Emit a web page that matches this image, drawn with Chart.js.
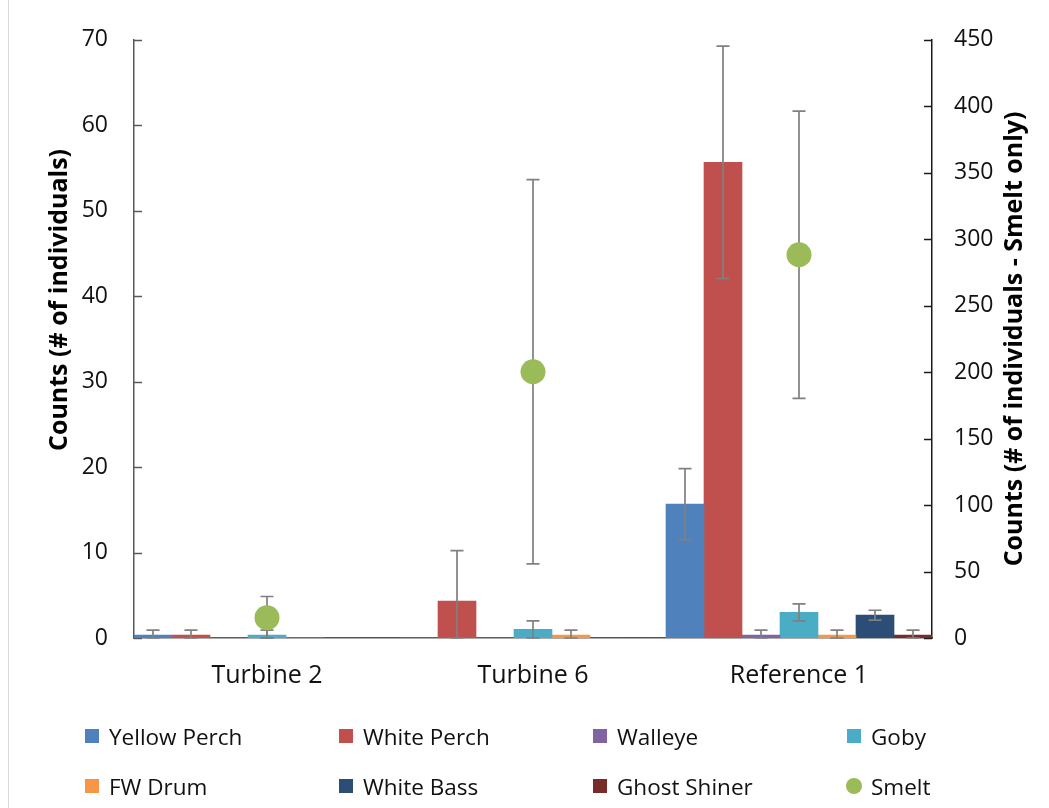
<!DOCTYPE html>
<html>
<head>
<meta charset="utf-8">
<script src="https://cdn.jsdelivr.net/npm/chart.js@4.4.1/dist/chart.umd.min.js"></script>
<style>
  html, body { margin: 0; padding: 0; background: #fff; }
  #wrap { position: relative; width: 1049px; height: 808px; overflow: hidden; }
  #frame { position: absolute; left: 8px; top: 0; width: 1px; height: 808px; background: #d9d9d9; }
  canvas { position: absolute; left: 0; top: 0; }
  #legend {
    position: absolute; left: 85px; top: 716px;
    display: grid; grid-template-columns: repeat(4, 254px); grid-auto-rows: 50px;
    font-family: 'Open Sans', sans-serif; font-size: 22.5px; color: #111;
  }
  .item { display: flex; align-items: center; height: 40px; white-space: nowrap; }
  .sw { width: 14px; height: 14px; margin-right: 10px; flex: none; }
  .sw.dot { width: 16px; height: 16px; border-radius: 50%; margin-left: -1px; margin-right: 9px; }
</style>
</head>
<body>
<div id="wrap">
  <div id="frame"></div>
  <canvas id="c" width="1049" height="808"></canvas>
  <div id="legend"></div>
</div>
<script>
// Sites sampled
const categories = ['Turbine 2', 'Turbine 6', 'Reference 1'];

// Mean counts per site (left axis) with their error values
const yellowPerch    = [0.33, 0, 15.67];
const yellowPerchErr = [0.58, 0, 4.16];
const whitePerch     = [0.33, 4.33, 55.67];
const whitePerchErr  = [0.58, 5.9, 13.6];
const walleye        = [0, 0, 0.33];
const walleyeErr     = [0, 0, 0.58];
const goby           = [0.33, 1, 3];
const gobyErr        = [0.58, 1, 1];
const fwDrum         = [0, 0.33, 0.33];
const fwDrumErr      = [0, 0.58, 0.58];
const whiteBass      = [0, 0, 2.67];
const whiteBassErr   = [0, 0, 0.58];
const ghostShiner    = [0, 0, 0.33];
const ghostShinerErr = [0, 0, 0.58];

// Smelt counts (right axis)
const smelt    = [15.3, 200.3, 288.3];
const smeltErr = [15.9, 144.5, 108];

// Axis tick ranges
const leftTicks  = { min: 0, max: 70, step: 10 };
const rightTicks = { min: 0, max: 450, step: 50 };

const FONT = "'Open Sans', sans-serif";

function barSet(label, data, errors, color) {
  return { type: 'bar', label, data, errors, backgroundColor: color, borderWidth: 0, yAxisID: 'y' };
}

const datasets = [
  barSet('Yellow Perch', yellowPerch, yellowPerchErr, '#4F81BD'),
  barSet('White Perch', whitePerch, whitePerchErr, '#C0504D'),
  barSet('Walleye', walleye, walleyeErr, '#8064A2'),
  barSet('Goby', goby, gobyErr, '#4BACC6'),
  barSet('FW Drum', fwDrum, fwDrumErr, '#F79646'),
  barSet('White Bass', whiteBass, whiteBassErr, '#2C4D75'),
  barSet('Ghost Shiner', ghostShiner, ghostShinerErr, '#772C2A'),
  {
    type: 'line', label: 'Smelt', data: smelt, errors: smeltErr, yAxisID: 'y2',
    showLine: false, pointRadius: 12.5, pointHoverRadius: 12.5,
    pointBackgroundColor: '#9BBB59', pointBorderWidth: 0, borderColor: '#9BBB59',
    backgroundColor: '#9BBB59', order: -1
  }
];

// Error bars: whiskers under the smelt markers, over the bars
function drawErrors(chart, index) {
  const ds = chart.data.datasets[index];
  if (!ds.errors) return;
  const meta = chart.getDatasetMeta(index);
  const scale = chart.scales[meta.yAxisID];
  const ctx = chart.ctx;
  const area = chart.chartArea;
  ctx.save();
  ctx.strokeStyle = '#808080';
  ctx.lineWidth = 1.7;
  meta.data.forEach((el, j) => {
    const e = ds.errors[j];
    if (!e) return;
    const v = ds.data[j];
    const x = el.x;
    const yTop = scale.getPixelForValue(v + e);
    const yBot = Math.min(scale.getPixelForValue(v - e), area.bottom);
    const cap = 6.5;
    ctx.beginPath();
    ctx.moveTo(x, yTop); ctx.lineTo(x, yBot);
    ctx.moveTo(x - cap, yTop); ctx.lineTo(x + cap, yTop);
    ctx.moveTo(x - cap, yBot); ctx.lineTo(x + cap, yBot);
    ctx.stroke();
  });
  ctx.restore();
}

const errorBars = {
  id: 'errorBars',
  beforeDatasetDraw(chart, args) {
    if (chart.data.datasets[args.index].type === 'line') drawErrors(chart, args.index);
  },
  afterDatasetDraw(chart, args) {
    if (chart.data.datasets[args.index].type !== 'line') drawErrors(chart, args.index);
  }
};

// Inward tick marks on both value axes, plus the rotated axis titles
const axisDecor = {
  id: 'axisDecor',
  beforeDatasetsDraw(chart) {
    const ctx = chart.ctx;
    const a = chart.chartArea;
    ctx.save();
    ctx.lineWidth = 1.5;
    ctx.strokeStyle = '#595959';
    chart.scales.y.ticks.forEach(t => {
      const y = Math.round(chart.scales.y.getPixelForValue(t.value)) + 0.5;
      ctx.beginPath(); ctx.moveTo(a.left, y); ctx.lineTo(a.left + 8, y); ctx.stroke();
    });
    ctx.strokeStyle = '#1a1a1a';
    chart.scales.y2.ticks.forEach(t => {
      const y = Math.round(chart.scales.y2.getPixelForValue(t.value)) + 0.5;
      ctx.beginPath(); ctx.moveTo(a.right - 8, y); ctx.lineTo(a.right, y); ctx.stroke();
    });
    ctx.restore();
  },
  afterDraw(chart) {
    const ctx = chart.ctx;
    const a = chart.chartArea;
    ctx.save();
    ctx.fillStyle = '#000';
    ctx.font = "bold 25px " + FONT;
    ctx.textAlign = 'center';
    ctx.textBaseline = 'middle';
    ctx.translate(60, 300);
    ctx.rotate(-Math.PI / 2);
    ctx.fillText('Counts (# of individuals)', 0, 0);
    ctx.restore();
    ctx.save();
    ctx.fillStyle = '#000';
    ctx.font = "bold 25px " + FONT;
    ctx.textAlign = 'center';
    ctx.textBaseline = 'middle';
    ctx.translate(1015, (a.top + a.bottom) / 2);
    ctx.rotate(-Math.PI / 2);
    ctx.fillText('Counts (# of individuals - Smelt only)', 0, 0);
    ctx.restore();
  }
};

const chart = new Chart(document.getElementById('c'), {
  data: { labels: categories, datasets },
  options: {
    responsive: false,
    animation: false,
    devicePixelRatio: 1,
    layout: { padding: { top: 37, left: 0, right: 0, bottom: 0 } },
    plugins: { legend: { display: false }, tooltip: { enabled: false } },
    datasets: { bar: { categoryPercentage: 1, barPercentage: 1, grouped: true } },
    scales: {
      x: {
        offset: true,
        grid: { display: false, drawTicks: false },
        border: { display: true, color: '#595959', width: 1.5 },
        ticks: { font: { family: FONT, size: 25 }, color: '#111', padding: 23 },
        afterFit(s) { s.height = 170; }
      },
      y: {
        position: 'left',
        min: leftTicks.min, max: leftTicks.max,
        ticks: { stepSize: leftTicks.step, font: { family: FONT, size: 23 }, color: '#111', padding: 26 },
        grid: { display: false, drawTicks: false },
        border: { display: true, color: '#595959', width: 1.5 },
        afterFit(s) { s.width = 134; }
      },
      y2: {
        position: 'right',
        min: rightTicks.min, max: rightTicks.max,
        ticks: { stepSize: rightTicks.step, font: { family: FONT, size: 23 }, color: '#111', padding: 22 },
        grid: { display: false, drawTicks: false },
        border: { display: true, color: '#1a1a1a', width: 1.5 },
        afterFit(s) { s.width = 117; }
      }
    }
  },
  plugins: [errorBars, axisDecor]
});

// Legend built from the chart's datasets
const legend = document.getElementById('legend');
chart.data.datasets.forEach(ds => {
  const item = document.createElement('div');
  item.className = 'item';
  const sw = document.createElement('span');
  sw.className = ds.type === 'line' ? 'sw dot' : 'sw';
  sw.style.background = ds.type === 'line' ? ds.pointBackgroundColor : ds.backgroundColor;
  const txt = document.createElement('span');
  txt.textContent = ds.label;
  item.appendChild(sw);
  item.appendChild(txt);
  legend.appendChild(item);
});
</script>
</body>
</html>
